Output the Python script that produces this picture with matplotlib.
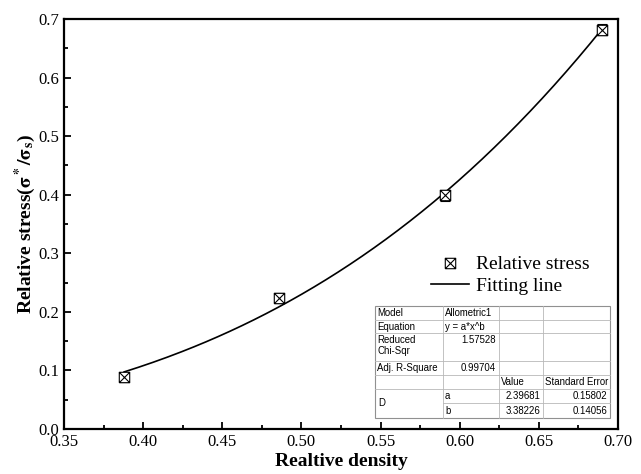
import numpy as np
import matplotlib
matplotlib.use("Agg")
import matplotlib.pyplot as plt
from matplotlib.lines import Line2D
from matplotlib.path import Path
from matplotlib.ticker import MultipleLocator

# measured points
density = [0.388, 0.486, 0.591, 0.690]
stress = [0.088, 0.224, 0.399, 0.682]
stress_err = [0.008, 0.009, 0.009, 0.010]

# fit parameters (Allometric1: y = a*x^b) from the table
fit_a = 2.39681
fit_b = 3.38226

table_rows = [
    ["Model", "Allometric1", "", ""],
    ["Equation", "y = a*x^b", "", ""],
    ["Reduced\nChi-Sqr", "1.57528", "", ""],
    ["Adj. R-Square", "0.99704", "", ""],
    ["", "", "Value", "Standard Error"],
    ["D", "a", "2.39681", "0.15802"],
    ["", "b", "3.38226", "0.14056"],
]

plt.rcParams['font.family'] = ['Liberation Serif', 'DejaVu Serif']
plt.rcParams['mathtext.fontset'] = 'stix'

# square with a cross inside
M, L = Path.MOVETO, Path.LINETO
box_x = Path([(-1, -1), (1, -1), (1, 1), (-1, 1), (-1, -1), (-1, -1), (1, 1), (-1, 1), (1, -1)],
             [M, L, L, L, L, M, L, M, L])
mk = dict(ls='none', marker=box_x, ms=7.5, mfc='white', mec='black', mew=0.8)

fig = plt.figure(figsize=(6.41, 4.74), dpi=100)
ax = fig.add_axes([64 / 641, 45 / 474, 554 / 641, 410 / 474])

xs = np.linspace(density[0], density[-1], 200)
ax.plot(xs, fit_a * xs ** fit_b, color='black', lw=1.2, zorder=2)

ax.errorbar(density, stress, yerr=stress_err, fmt='none', ecolor='black',
            elinewidth=0.8, capsize=3.5, capthick=0.8, zorder=3)
ax.plot(density, stress, zorder=4, **mk)

ax.set_xlim(0.35, 0.70)
ax.set_ylim(0.0, 0.7)
ax.xaxis.set_major_locator(MultipleLocator(0.05))
ax.xaxis.set_minor_locator(MultipleLocator(0.025))
ax.yaxis.set_major_locator(MultipleLocator(0.1))
ax.yaxis.set_minor_locator(MultipleLocator(0.05))
ax.xaxis.set_major_formatter(plt.FormatStrFormatter('%.2f'))
ax.yaxis.set_major_formatter(plt.FormatStrFormatter('%.1f'))
ax.tick_params(which='both', direction='in', top=False, right=False, labelsize=12)
ax.tick_params(which='major', length=5, width=1.3)
ax.tick_params(which='minor', length=3, width=1.3)
for sp in ax.spines.values():
    sp.set_linewidth(1.6)

ax.set_xlabel('Realtive density', fontsize=14, fontweight='bold', labelpad=2)
ax.set_ylabel(r'Relative stress($\mathbf{\sigma^*/\sigma_s}$)', fontsize=14,
              fontweight='bold', labelpad=0)

h_pt = Line2D([], [], **mk)
h_ln = Line2D([], [], color='black', lw=1.2)
ax.legend([h_pt, h_ln], ['Relative stress', 'Fitting line'], frameon=False,
          fontsize=14, loc='upper left', bbox_to_anchor=(0.63, 0.465),
          handlelength=2.0, handletextpad=0.36, labelspacing=0.2, borderpad=0.4)

# fit result table drawn in pixel coordinates
W, H = 641, 474
col_x = [375, 443, 499, 543, 610]
row_y = [306, 320, 333, 361, 375, 389, 403, 418]
grid = '#b8b8b8'
tr = fig.transFigure

def fx(px):
    return px / W

def fy(py):
    return 1 - py / H

fig.patches.append(plt.Rectangle((fx(col_x[0]), fy(row_y[-1])),
                                 (col_x[-1] - col_x[0]) / W, (row_y[-1] - row_y[0]) / H,
                                 transform=tr, facecolor='white', edgecolor='#909090',
                                 lw=0.8, zorder=6))
for i, y in enumerate(row_y[1:-1], start=1):
    x0 = col_x[1] if i == 6 else col_x[0]
    fig.add_artist(Line2D([fx(x0), fx(col_x[-1])], [fy(y), fy(y)], color=grid,
                          lw=0.6, transform=tr, zorder=7))
for x in col_x[1:-1]:
    fig.add_artist(Line2D([fx(x), fx(x)], [fy(row_y[0]), fy(row_y[-1])], color=grid,
                          lw=0.6, transform=tr, zorder=7))

tfont = dict(family=['Liberation Sans', 'DejaVu Sans'], fontsize=6.9, zorder=8,
             linespacing=1.1)
for r, row in enumerate(table_rows):
    for c, txt in enumerate(row):
        if not txt:
            continue
        if r == 5 and c == 0:
            yc = (row_y[5] + row_y[7]) / 2
            fig.text(fx(col_x[0] + 3), fy(yc), txt, va='center', ha='left', **tfont)
            continue
        if r == 2:
            y, va = row_y[r] + 2, 'top'
        else:
            y, va = (row_y[r] + row_y[r + 1]) / 2, 'center'
        if txt[0].isdigit():
            fig.text(fx(col_x[c + 1] - 3), fy(y), txt, va=va, ha='right', **tfont)
        else:
            fig.text(fx(col_x[c] + 2), fy(y), txt, va=va, ha='left', **tfont)

fig.savefig('out.png', dpi=100)
